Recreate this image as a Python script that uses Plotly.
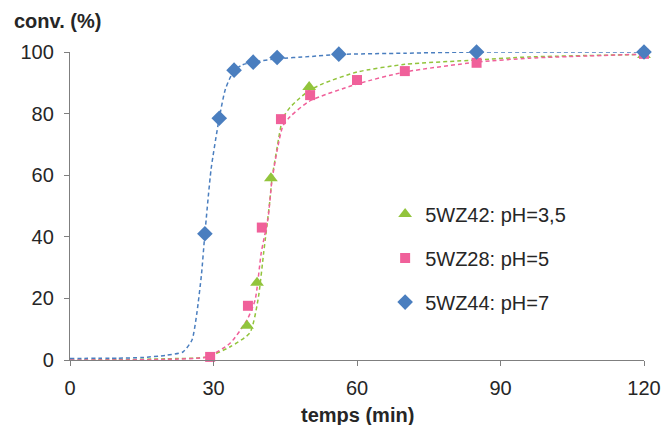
import plotly.graph_objects as go

# Measured points
g_x = [37.0, 39.1, 42.0, 50.0, 120.0]
g_y = [11.1, 25.1, 59.0, 88.6, 99.0]
p_x = [29.3, 37.2, 40.1, 44.1, 50.2, 60.0, 70.0, 85.0, 120.0]
p_y = [1.0, 17.6, 43.0, 78.2, 86.0, 90.9, 93.8, 96.5, 99.4]
b_x = [28.2, 31.2, 34.3, 38.3, 43.3, 56.2, 85.0, 120.0]
b_y = [41.0, 78.5, 94.1, 96.7, 98.2, 99.3, 100.0, 100.0]

# Fitted curves
gc_x = [0, 10, 20, 28.6, 33.5, 37.6, 39.3, 40.5, 41.8, 42.2, 43.3, 44.5, 46, 48, 50, 53, 60, 70, 85, 96, 120]
gc_y = [0, 0.1, 0.4, 1.0, 4.3, 8.8, 19.5, 35, 52, 58.6, 69, 78.5, 82, 85, 87.5, 89.8, 93.5, 96, 97.4, 98.4, 99.2]
pc_x = [0, 10, 20, 28.6, 33.5, 37, 38.7, 40, 41.4, 42.2, 43.3, 44.5, 46, 50, 60, 70, 85, 96, 120]
pc_y = [0, 0, 0.2, 1.0, 5.5, 13, 19.5, 35, 46, 58, 68, 76, 79, 84, 89.6, 93.5, 96.7, 98, 99.3]
bc_x = [0, 10, 15, 20, 23.6, 25.5, 26.5, 27.5, 28.2, 29.5, 31.2, 32.5, 34.3, 36, 38.3, 43.3, 50, 56.2, 70, 85, 100, 120]
bc_y = [0.5, 0.6, 0.8, 1.5, 2.6, 6.5, 15, 28, 41, 62, 78.5, 88, 94, 95.8, 96.7, 97.8, 98.5, 99.2, 99.6, 100, 100, 100]

names = ["5WZ42: pH=3,5", "5WZ28: pH=5", "5WZ44: pH=7"]
x_ticks = [0, 30, 60, 90, 120]
y_ticks = [0, 20, 40, 60, 80, 100]

GREEN = "#92C43C"
PINK = "#F0609A"
BLUE = "#4A7EBF"
FONT = "Liberation Sans, Arial"
TXT = "#262626"

fig = go.Figure()
for cx, cy, col in [(gc_x, gc_y, GREEN), (pc_x, pc_y, PINK), (bc_x, bc_y, BLUE)]:
    fig.add_trace(go.Scatter(x=cx, y=cy, mode="lines", showlegend=False,
                             line=dict(color=col, width=1.5, dash="4px,3px", shape="spline", smoothing=0.6),
                             cliponaxis=False, hoverinfo="skip"))

for i, (mx, my, col, sym, sz) in enumerate([
        (g_x, g_y, GREEN, "triangle-up", 12),
        (p_x, p_y, PINK, "square", 10),
        (b_x, b_y, BLUE, "diamond", 12)]):
    fig.add_trace(go.Scatter(x=mx, y=my, mode="markers", name=names[i], legendgroup=f"g{i}",
                             marker=dict(color=col, symbol=sym, size=sz, line=dict(width=0)),
                             cliponaxis=False))

axis_common = dict(showgrid=False, zeroline=False, showline=True, linecolor="#7F7F7F", linewidth=1.3,
                   ticks="outside", ticklen=5, tickcolor="#7F7F7F", tickwidth=1.3, automargin=False,
                   tickfont=dict(family=FONT, size=20, color=TXT))
fig.update_xaxes(range=[0, 120], tickvals=x_ticks, ticklabelstandoff=5, **axis_common)
fig.update_yaxes(range=[0, 100], tickvals=y_ticks, ticklabelstandoff=6, **axis_common)

fig.update_layout(
    width=661, height=425,
    margin=dict(l=70, r=17, t=52, b=65, autoexpand=False),
    paper_bgcolor="white", plot_bgcolor="white",
    font=dict(family=FONT, size=20, color=TXT),
    legend=dict(x=0.549, y=0.537, xanchor="left", yanchor="top", traceorder="grouped",
                tracegroupgap=15, bgcolor="rgba(0,0,0,0)",
                font=dict(family=FONT, size=20, color=TXT)),
    annotations=[
        dict(text="<b>conv. (%)</b>", xref="paper", yref="paper", x=-0.101, y=1.10,
             xanchor="left", yanchor="middle", showarrow=False,
             font=dict(family=FONT, size=20, color=TXT)),
        dict(text="<b>temps (min)</b>", xref="paper", yref="paper", x=0.501, y=-0.179,
             xanchor="center", yanchor="middle", showarrow=False,
             font=dict(family=FONT, size=20, color=TXT)),
    ],
)

fig.write_html("out.html", config={"displayModeBar": False},
               post_script="document.body.style.margin='0';document.body.style.overflow='hidden';")
